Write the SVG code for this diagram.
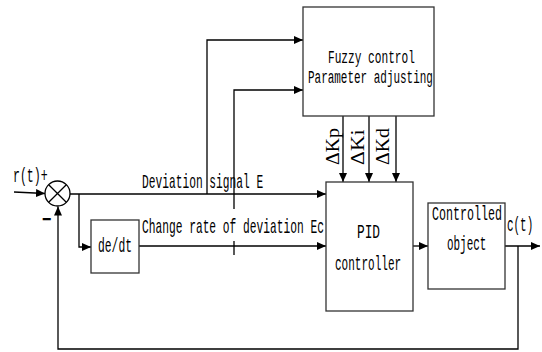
<svg xmlns="http://www.w3.org/2000/svg" width="542" height="352" viewBox="0 0 542 352">
<defs>
<marker id="ah" markerWidth="9" markerHeight="8" refX="9" refY="4" orient="auto" markerUnits="userSpaceOnUse">
<path d="M0,0 L9,4 L0,8 Z" fill="#000"/>
</marker>
<style>
.box{fill:#fff;stroke:#333;stroke-width:1.3}
.ln{fill:none;stroke:#000;stroke-width:1.3}
.t{font-family:"Liberation Mono","DejaVu Sans Mono",monospace;font-size:21px;fill:#000}
.f{font-family:"Liberation Mono","DejaVu Sans Mono",monospace;font-size:19px;fill:#000}
.d{font-family:"Liberation Serif","Times New Roman",serif;font-size:18px;fill:#000}
</style>
</defs>
<rect width="542" height="352" fill="#fff"/>
<g id="connectors">
<path class="ln" d="M14,192 L45,193.5" marker-end="url(#ah)"/>
<path class="ln" d="M70,194 L326,194" marker-end="url(#ah)"/>
<path class="ln" d="M79,194 L79,247 L91,247" marker-end="url(#ah)"/>
<path class="ln" d="M139,246 L326,246" marker-end="url(#ah)"/>
<path class="ln" d="M207,194 L207,40 L303,40" marker-end="url(#ah)"/>
<path class="ln" d="M234,255 L234,90 L303,90" marker-end="url(#ah)"/>
<path class="ln" d="M343,116 L343,182" marker-end="url(#ah)"/>
<path class="ln" d="M369,116 L369,182" marker-end="url(#ah)"/>
<path class="ln" d="M396,116 L396,182" marker-end="url(#ah)"/>
<path class="ln" d="M413,246 L428,246" marker-end="url(#ah)"/>
<path class="ln" d="M505,246 L540,246" marker-end="url(#ah)"/>
<path class="ln" d="M518,246 L518,349 L58,349 L58,206.5" marker-end="url(#ah)"/>
</g>
<g id="sum">
<circle cx="57.5" cy="193.5" r="12.5" fill="#fff" stroke="#000" stroke-width="1.3"/>
<path class="ln" d="M48.7,184.7 L66.3,202.3 M66.3,184.7 L48.7,202.3"/>
<text class="t" transform="translate(13,182) scale(0.55,1)">r(t)+</text>
<text transform="translate(42,226) scale(0.8,1)" font-family="Liberation Sans,Arial,sans-serif" font-size="20" font-weight="bold">−</text>
</g>
<g id="labels">
<text class="t" transform="translate(142,188) scale(0.535,1)">Deviation signal E</text>
<rect x="141" y="209" width="183" height="32" fill="#fff"/>
<text class="t" transform="translate(142,233) scale(0.535,1)">Change rate of deviation Ec</text>
<text class="t" transform="translate(507,231) scale(0.52,1)">c(t)</text>
</g>
<g id="fuzzy">
<rect class="box" x="303" y="7" width="131" height="109"/>
<text class="f" transform="translate(328,63) scale(0.587,1)">Fuzzy control</text>
<text class="f" transform="translate(308,83) scale(0.577,1)">Parameter adjusting</text>
</g>
<g id="deltas">
<text class="d" transform="translate(339,165) rotate(-90) scale(1.1,1)">ΔKp</text>
<text class="d" transform="translate(364,165) rotate(-90) scale(1.2,1)">ΔKi</text>
<text class="d" transform="translate(389,165) rotate(-90) scale(1.1,1)">ΔKd</text>
</g>
<g id="dedt">
<rect class="box" x="91" y="220" width="48" height="53"/>
<text class="t" transform="translate(98,252) scale(0.54,1)">de/dt</text>
</g>
<g id="pid">
<rect class="box" x="326" y="182" width="87" height="129"/>
<text class="t" transform="translate(357,238) scale(0.61,1)">PID</text>
<text class="t" transform="translate(335,270) scale(0.525,1)">controller</text>
</g>
<g id="plant">
<rect class="box" x="428" y="203" width="77" height="86"/>
<text class="t" transform="translate(432,220) scale(0.555,1)">Controlled</text>
<text class="t" transform="translate(447,250) scale(0.52,1)">object</text>
</g>
</svg>
